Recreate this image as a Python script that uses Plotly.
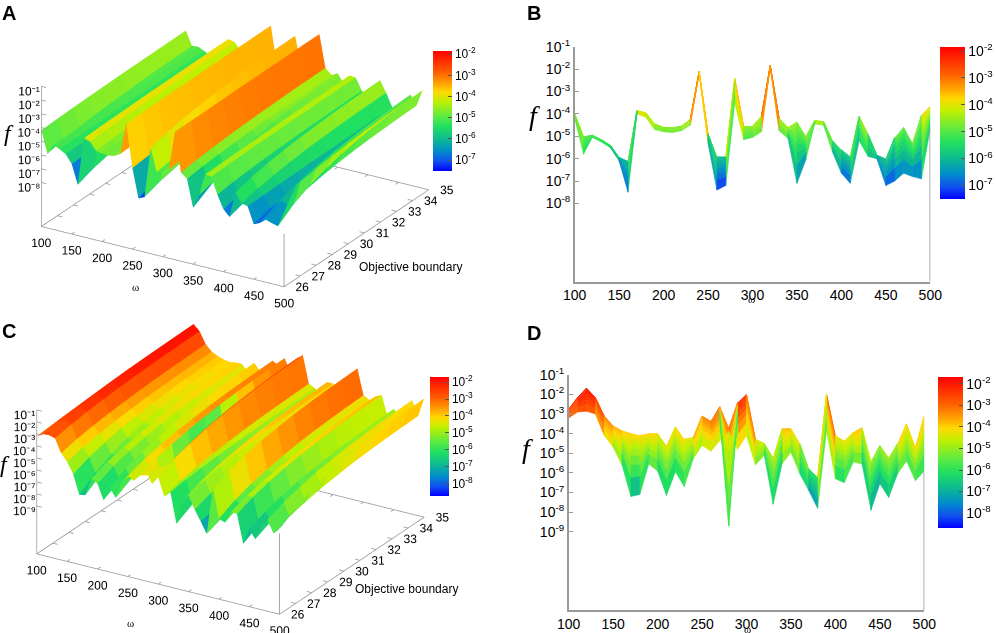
import numpy as np
import plotly.graph_objects as go

omega = list(range(100, 501, 10))
boundary = list(range(26, 36))

# log10(f); one row per omega (100..500), columns = objective boundary 26..35
logf_a = [
    [-4.20, -4.14, -4.10, -4.07, -4.05, -4.03, -4.02, -4.01, -4.00, -4.00],
    [-5.80, -5.56, -5.40, -5.28, -5.19, -5.12, -5.07, -5.04, -5.02, -5.00],
    [-5.05, -5.03, -5.02, -5.01, -5.00, -4.99, -4.98, -4.97, -4.96, -4.95],
    [-5.25, -5.23, -5.22, -5.20, -5.19, -5.18, -5.17, -5.16, -5.15, -5.15],
    [-5.50, -5.48, -5.46, -5.45, -5.44, -5.43, -5.42, -5.41, -5.40, -5.40],
    [-6.10, -6.06, -6.03, -6.01, -6.00, -5.98, -5.97, -5.96, -5.95, -5.95],
    [-7.50, -7.08, -6.80, -6.59, -6.44, -6.31, -6.23, -6.17, -6.13, -6.10],
    [-4.00, -3.96, -3.93, -3.91, -3.89, -3.88, -3.87, -3.86, -3.85, -3.85],
    [-4.15, -4.09, -4.05, -4.02, -4.00, -3.98, -3.97, -3.96, -3.95, -3.95],
    [-4.70, -4.63, -4.58, -4.54, -4.51, -4.49, -4.48, -4.46, -4.45, -4.45],
    [-4.80, -4.74, -4.70, -4.67, -4.65, -4.63, -4.62, -4.61, -4.60, -4.60],
    [-4.83, -4.77, -4.73, -4.70, -4.67, -4.65, -4.64, -4.63, -4.62, -4.62],
    [-4.75, -4.69, -4.65, -4.62, -4.60, -4.58, -4.57, -4.56, -4.55, -4.55],
    [-4.50, -4.43, -4.38, -4.34, -4.31, -4.29, -4.28, -4.26, -4.25, -4.25],
    [-2.20, -2.17, -2.15, -2.14, -2.13, -2.12, -2.11, -2.11, -2.10, -2.10],
    [-5.30, -5.18, -5.10, -5.04, -5.00, -4.96, -4.94, -4.92, -4.91, -4.90],
    [-7.40, -6.95, -6.65, -6.43, -6.26, -6.13, -6.04, -5.98, -5.93, -5.90],
    [-7.20, -6.81, -6.55, -6.36, -6.21, -6.10, -6.02, -5.97, -5.93, -5.90],
    [-3.50, -3.17, -2.95, -2.79, -2.66, -2.57, -2.50, -2.46, -2.42, -2.40],
    [-5.15, -4.97, -4.85, -4.76, -4.69, -4.64, -4.60, -4.58, -4.56, -4.55],
    [-5.05, -4.90, -4.80, -4.72, -4.67, -4.62, -4.59, -4.57, -4.56, -4.55],
    [-4.80, -4.59, -4.45, -4.35, -4.27, -4.21, -4.16, -4.14, -4.11, -4.10],
    [-1.90, -1.89, -1.88, -1.87, -1.86, -1.86, -1.85, -1.85, -1.84, -1.84],
    [-4.75, -4.59, -4.48, -4.39, -4.33, -4.28, -4.25, -4.22, -4.21, -4.20],
    [-5.10, -4.95, -4.85, -4.78, -4.72, -4.68, -4.65, -4.63, -4.61, -4.60],
    [-7.10, -6.28, -5.73, -5.32, -5.02, -4.77, -4.61, -4.50, -4.41, -4.36],
    [-6.06, -5.74, -5.53, -5.37, -5.25, -5.16, -5.10, -5.05, -5.02, -5.00],
    [-4.45, -4.41, -4.38, -4.35, -4.34, -4.32, -4.31, -4.31, -4.30, -4.30],
    [-4.50, -4.46, -4.43, -4.40, -4.39, -4.37, -4.36, -4.36, -4.35, -4.35],
    [-5.70, -5.55, -5.45, -5.38, -5.32, -5.28, -5.25, -5.23, -5.21, -5.20],
    [-6.65, -6.34, -6.13, -5.97, -5.85, -5.76, -5.70, -5.65, -5.62, -5.60],
    [-7.10, -6.74, -6.50, -6.32, -6.19, -6.08, -6.01, -5.96, -5.92, -5.90],
    [-5.20, -4.87, -4.65, -4.49, -4.36, -4.27, -4.20, -4.15, -4.12, -4.10],
    [-5.90, -5.60, -5.40, -5.25, -5.14, -5.05, -4.99, -4.95, -4.92, -4.90],
    [-6.00, -5.96, -5.93, -5.90, -5.89, -5.88, -5.87, -5.86, -5.85, -5.85],
    [-7.20, -6.84, -6.60, -6.42, -6.29, -6.18, -6.11, -6.06, -6.02, -6.00],
    [-7.00, -6.42, -6.03, -5.73, -5.52, -5.34, -5.23, -5.15, -5.09, -5.05],
    [-6.65, -6.04, -5.63, -5.32, -5.09, -4.91, -4.78, -4.70, -4.64, -4.60],
    [-6.80, -6.35, -6.05, -5.83, -5.66, -5.53, -5.44, -5.38, -5.33, -5.30],
    [-6.90, -6.05, -5.48, -5.05, -4.74, -4.49, -4.32, -4.20, -4.12, -4.06],
    [-4.65, -4.35, -4.16, -4.01, -3.90, -3.81, -3.75, -3.71, -3.68, -3.66],
]

logf_c = [
    [-3.20, -3.07, -2.98, -2.91, -2.86, -2.82, -2.79, -2.77, -2.76, -2.75],
    [-2.90, -2.68, -2.53, -2.41, -2.33, -2.26, -2.22, -2.19, -2.17, -2.15],
    [-2.86, -2.51, -2.27, -2.09, -1.96, -1.86, -1.79, -1.74, -1.70, -1.68],
    [-3.00, -2.74, -2.57, -2.45, -2.35, -2.28, -2.23, -2.19, -2.17, -2.15],
    [-4.10, -3.80, -3.60, -3.45, -3.34, -3.25, -3.19, -3.15, -3.12, -3.10],
    [-4.70, -4.37, -4.15, -3.98, -3.86, -3.76, -3.70, -3.65, -3.62, -3.60],
    [-5.60, -5.07, -4.72, -4.46, -4.27, -4.11, -4.01, -3.94, -3.88, -3.85],
    [-7.20, -6.24, -5.60, -5.12, -4.77, -4.48, -4.29, -4.16, -4.06, -4.00],
    [-7.10, -6.20, -5.60, -5.15, -4.82, -4.55, -4.37, -4.25, -4.16, -4.10],
    [-5.55, -5.08, -4.77, -4.54, -4.37, -4.23, -4.14, -4.08, -4.03, -4.00],
    [-5.90, -5.33, -4.95, -4.66, -4.46, -4.28, -4.17, -4.09, -4.04, -4.00],
    [-7.15, -6.38, -5.87, -5.49, -5.21, -4.98, -4.83, -4.73, -4.65, -4.60],
    [-5.95, -5.26, -4.80, -4.45, -4.20, -3.99, -3.86, -3.76, -3.70, -3.65],
    [-6.70, -5.97, -5.48, -5.12, -4.85, -4.63, -4.49, -4.39, -4.32, -4.27],
    [-5.30, -4.97, -4.75, -4.58, -4.46, -4.36, -4.30, -4.25, -4.22, -4.20],
    [-4.60, -4.15, -3.85, -3.62, -3.46, -3.32, -3.23, -3.17, -3.13, -3.10],
    [-4.90, -4.43, -4.12, -3.89, -3.72, -3.58, -3.49, -3.43, -3.38, -3.35],
    [-4.35, -3.83, -3.49, -3.23, -3.04, -2.89, -2.78, -2.72, -2.66, -2.63],
    [-3.90, -5.00, -6.80, -8.00, -8.70, -7.50, -5.50, -4.50, -4.00, -3.70],
    [-4.80, -4.08, -3.60, -3.24, -2.98, -2.76, -2.62, -2.52, -2.45, -2.40],
    [-4.10, -3.47, -3.05, -2.73, -2.50, -2.31, -2.19, -2.10, -2.04, -2.00],
    [-5.60, -5.20, -4.93, -4.74, -4.59, -4.47, -4.39, -4.34, -4.30, -4.27],
    [-5.10, -4.92, -4.80, -4.71, -4.64, -4.59, -4.55, -4.53, -4.51, -4.50],
    [-7.60, -6.88, -6.40, -6.04, -5.78, -5.56, -5.42, -5.32, -5.25, -5.20],
    [-5.55, -5.01, -4.65, -4.38, -4.18, -4.02, -3.91, -3.84, -3.79, -3.75],
    [-4.95, -4.59, -4.35, -4.17, -4.04, -3.93, -3.86, -3.81, -3.77, -3.75],
    [-6.05, -5.58, -5.27, -5.04, -4.87, -4.73, -4.64, -4.58, -4.53, -4.50],
    [-6.90, -6.57, -6.35, -6.18, -6.06, -5.96, -5.90, -5.85, -5.82, -5.80],
    [-7.80, -7.32, -7.00, -6.76, -6.58, -6.44, -6.34, -6.28, -6.23, -6.20],
    [-3.85, -3.29, -2.91, -2.63, -2.43, -2.26, -2.15, -2.07, -2.02, -1.98],
    [-6.30, -5.64, -5.20, -4.87, -4.63, -4.43, -4.30, -4.21, -4.14, -4.10],
    [-6.50, -5.85, -5.42, -5.10, -4.87, -4.67, -4.54, -4.46, -4.39, -4.35],
    [-5.45, -4.99, -4.69, -4.46, -4.29, -4.16, -4.07, -4.01, -3.96, -3.93],
    [-5.55, -4.99, -4.62, -4.35, -4.14, -3.98, -3.87, -3.79, -3.74, -3.70],
    [-7.90, -7.15, -6.65, -6.27, -6.00, -5.77, -5.62, -5.52, -5.45, -5.40],
    [-6.55, -5.96, -5.57, -5.28, -5.07, -4.89, -4.78, -4.70, -4.64, -4.60],
    [-7.25, -6.63, -6.22, -5.92, -5.69, -5.51, -5.38, -5.30, -5.24, -5.20],
    [-6.05, -5.58, -5.27, -5.04, -4.87, -4.73, -4.64, -4.58, -4.53, -4.50],
    [-5.40, -4.83, -4.45, -4.16, -3.96, -3.78, -3.67, -3.59, -3.54, -3.50],
    [-6.40, -5.89, -5.55, -5.29, -5.11, -4.95, -4.85, -4.78, -4.73, -4.70],
    [-5.90, -5.06, -4.50, -4.08, -3.77, -3.52, -3.35, -3.24, -3.16, -3.10],
]

omega_ticks = list(range(100, 501, 50))
zticks_a = [-1, -2, -3, -4, -5, -6, -7, -8]
zticks_c = [-1, -2, -3, -4, -5, -6, -7, -8, -9]
cbticks_a = [-2, -3, -4, -5, -6, -7]
cbticks_c = [-2, -3, -4, -5, -6, -7, -8]
zrange_a3 = [-11.2, -1]   # 3D panels
zrange_c3 = [-13, -1]
zrange_a = [-11.5, -1]    # 2D projections
zrange_c = [-13, -1]

# rainbow palette similar to the gnuplot one
palette = [
    [0.00, "#0000ff"], [0.08, "#1050f0"], [0.17, "#0090c8"], [0.28, "#10c088"],
    [0.37, "#20e060"], [0.46, "#60ea40"], [0.58, "#c0f000"], [0.66, "#ffd800"],
    [0.72, "#ffa800"], [0.82, "#ff6000"], [1.00, "#ff0000"],
]

SANS = "Liberation Sans"
SERIF = "Liberation Serif"
AXCOL = "#9a9a9a"

SUP = str.maketrans("-0123456789", "⁻⁰¹²³⁴⁵⁶⁷⁸⁹")


def pow_text(v):
    return "10" + str(v).translate(SUP)


def pow_html(v):
    return "10<sup>%d</sup>" % v


def hex_rgb(h):
    return tuple(int(h[k:k + 2], 16) for k in (1, 3, 5))


def pal_color(t):
    t = min(max(t, 0.0), 1.0)
    for (t0, c0), (t1, c1) in zip(palette[:-1], palette[1:]):
        if t <= t1:
            u = (t - t0) / (t1 - t0) if t1 > t0 else 0
            a, b = hex_rgb(c0), hex_rgb(c1)
            return "rgb(%d,%d,%d)" % tuple(round(a[k] + (b[k] - a[k]) * u) for k in range(3))
    return palette[-1][1]


def surface3d(logf, cbar, scene):
    z = np.array(logf)
    nx, ny = z.shape
    xs, ys, zs = [], [], []
    for i in range(nx):
        for j in range(ny):
            xs.append(omega[i])
            ys.append(boundary[j])
            zs.append(z[i, j])
    ii, jj, kk, inten = [], [], [], []
    for i in range(nx - 1):
        for j in range(ny - 1):
            k00 = i * ny + j
            k10 = (i + 1) * ny + j
            k01 = i * ny + j + 1
            k11 = (i + 1) * ny + j + 1
            m = (z[i, j] + z[i + 1, j] + z[i, j + 1] + z[i + 1, j + 1]) / 4
            ii += [k00, k00]
            jj += [k10, k11]
            kk += [k11, k01]
            inten += [m, m]
    return go.Mesh3d(
        x=xs, y=ys, z=zs, i=ii, j=jj, k=kk,
        intensity=inten, intensitymode="cell",
        colorscale=palette, cmin=z.min(), cmax=z.max(),
        flatshading=True,
        lighting=dict(ambient=1.0, diffuse=0.0, specular=0.0, roughness=1.0, fresnel=0.0),
        hoverinfo="skip", colorbar=cbar, scene=scene,
    )


def frame3d(logf, zr, zt, scene):
    """base box, verticals, tick marks and tick labels of a gnuplot-like 3D frame"""
    z0 = zr[0]
    x0, x1 = omega[0], omega[-1]
    y0, y1 = boundary[0], boundary[-1]
    corner = logf[-1][0]
    lx = [x0, x1, x1, x0, x0, None, x0, x0, None, x1, x1, None]
    ly = [y0, y0, y1, y1, y0, None, y0, y0, None, y0, y0, None]
    lz = [z0, z0, z0, z0, z0, None, z0, zr[1], None, z0, corner, None]
    dx = (x1 - x0) * 0.02
    dy = (y1 - y0) * 0.02
    for v in zt:
        lx += [x0, x0 + dx, None]
        ly += [y0, y0, None]
        lz += [v, v, None]
    for v in omega_ticks:
        lx += [v, v, None, v, v, None]
        ly += [y0, y0 + dy, None, y1, y1 - dy, None]
        lz += [z0, z0, None, z0, z0, None]
    for v in boundary:
        lx += [x1, x1 - dx, None, x0, x0 + dx, None]
        ly += [v, v, None, v, v, None]
        lz += [z0, z0, None, z0, z0, None]
    tfont = dict(family=SANS, size=12, color="black")
    # gl3d text sits a few pixels above its anchor; nudge the z labels down a little
    znudge = 0.035 * (zr[1] - zr[0])
    return [
        go.Scatter3d(x=lx, y=ly, z=lz, mode="lines", line=dict(color=AXCOL, width=1.6),
                     hoverinfo="skip", showlegend=False, scene=scene),
        go.Scatter3d(x=omega_ticks, y=[y0] * len(omega_ticks), z=[z0] * len(omega_ticks),
                     mode="text", text=[str(v) for v in omega_ticks], textposition="bottom center",
                     textfont=tfont, hoverinfo="skip", showlegend=False, scene=scene),
        go.Scatter3d(x=[x1] * len(boundary), y=boundary, z=[z0] * len(boundary),
                     mode="text", text=[str(v) for v in boundary], textposition="middle right",
                     textfont=tfont, hoverinfo="skip", showlegend=False, scene=scene),
        go.Scatter3d(x=[x0 + 0.03 * (x1 - x0)] * len(zt), y=[y0 + 0.02 * (y1 - y0)] * len(zt),
                     z=[v - znudge for v in zt],
                     mode="text", text=[pow_text(v) for v in zt], textposition="middle left",
                     textfont=tfont, hoverinfo="skip", showlegend=False, scene=scene),
    ]


def projection2d(logf, xa, ya):
    z = np.array(logf)
    lo, hi = z.min(), z.max()
    bins = {}
    nx, ny = z.shape
    for i in range(nx - 1):
        for j in range(ny - 1):
            m = (z[i, j] + z[i + 1, j] + z[i, j + 1] + z[i + 1, j + 1]) / 4
            b = int(round((m - lo) / (hi - lo) * 80))
            px = [omega[i], omega[i + 1], omega[i + 1], omega[i], omega[i], None]
            py = [z[i, j], z[i + 1, j], z[i + 1, j + 1], z[i, j + 1], z[i, j], None]
            bx, by = bins.setdefault(b, ([], []))
            bx += px
            by += py
    traces = []
    for b in sorted(bins, reverse=True):
        col = pal_color(b / 80)
        bx, by = bins[b]
        traces.append(go.Scatter(
            x=bx, y=by, mode="lines", fill="toself", fillcolor=col,
            line=dict(color=col, width=0.6), hoverinfo="skip",
            showlegend=False, xaxis=xa, yaxis=ya,
        ))
    return traces


def cbar(x, yc, length, thick, ticks, size):
    return dict(
        x=x, xanchor="left", y=yc, yanchor="middle", xpad=0, ypad=0,
        len=length, lenmode="pixels", thickness=thick, thicknessmode="pixels",
        tickvals=ticks, ticktext=[pow_html(t) for t in ticks],
        ticks="inside", ticklen=4, tickcolor="#555", outlinewidth=0,
        tickfont=dict(family=SANS, size=size, color="black"),
    )


fig = go.Figure()

# panel A (3D)
fig.add_trace(surface3d(logf_a, cbar(0.435, 0.825, 120, 19, cbticks_a, 12), "scene"))
for t in frame3d(logf_a, zrange_a3, zticks_a, "scene"):
    fig.add_trace(t)

# panel C (3D)
fig.add_trace(surface3d(logf_c, cbar(0.432, 0.311, 119, 19, cbticks_c, 12), "scene2"))
for t in frame3d(logf_c, zrange_c3, zticks_c, "scene2"):
    fig.add_trace(t)

# panel B (projection of A)
for t in projection2d(logf_a, "x", "y"):
    fig.add_trace(t)
za = np.array(logf_a)
fig.add_trace(go.Scatter(
    x=[omega[0]], y=[zrange_a[0] - 5], mode="markers",
    marker=dict(size=1, opacity=0, color=[za.min()], cmin=za.min(), cmax=za.max(),
                colorscale=palette, showscale=True,
                colorbar=cbar(0.944, 0.806, 152, 25, cbticks_a, 14)),
    hoverinfo="skip", showlegend=False, xaxis="x", yaxis="y",
))

# panel D (projection of C)
for t in projection2d(logf_c, "x2", "y2"):
    fig.add_trace(t)
zc = np.array(logf_c)
fig.add_trace(go.Scatter(
    x=[omega[0]], y=[zrange_c[0] - 5], mode="markers",
    marker=dict(size=1, opacity=0, color=[zc.min()], cmin=zc.min(), cmax=zc.max(),
                colorscale=palette, showscale=True,
                colorbar=cbar(0.942, 0.285, 151, 25, cbticks_c, 14)),
    hoverinfo="skip", showlegend=False, xaxis="x2", yaxis="y2",
))


def scene_axes(zr, asp, cz):
    common = dict(showgrid=False, showbackground=False, zeroline=False, showline=False,
                  showspikes=False, ticks="", showticklabels=False, title=dict(text=""))
    return dict(
        xaxis=dict(common, range=[omega[0] - 2, omega[-1] + 2]),
        yaxis=dict(common, range=[boundary[0] - 0.05, boundary[-1] + 0.05]),
        zaxis=dict(common, range=[zr[0] - 0.05, zr[1] + 0.05]),
        aspectmode="manual", aspectratio=dict(x=asp[0], y=asp[1], z=asp[2]),
        # view direction kept fixed; the look-at point is lowered to move the box up
        camera=dict(eye=dict(x=0.53, y=-0.871, z=0.456 + cz), up=dict(x=0, y=0, z=1),
                    center=dict(x=0, y=0, z=cz), projection=dict(type="orthographic")),
    )


def axis2d(dom, rng, ticks, anchor, is_y):
    d = dict(domain=dom, range=rng, anchor=anchor, showgrid=False, zeroline=False,
             showline=True, linecolor=AXCOL, linewidth=1.5,
             tickfont=dict(family=SANS, size=14, color="black"), tickvals=ticks)
    if is_y:
        d.update(ticks="inside", ticklen=5, tickcolor=AXCOL,
                 ticktext=[pow_html(t) for t in ticks])
    else:
        d.update(ticks="")
    return d


fig.update_layout(
    width=996, height=633, margin=dict(l=0, r=0, t=0, b=0, autoexpand=False),
    paper_bgcolor="white", plot_bgcolor="white",
    font=dict(family=SANS, color="black"),
    scene=dict(domain=dict(x=[0.0, 0.472], y=[0.49, 1.0]),
               **scene_axes(zrange_a3, (1.777, 1.741, 0.96), -0.159)),
    scene2=dict(domain=dict(x=[0.0, 0.463], y=[0.0, 0.52]),
                **scene_axes(zrange_c3, (1.745, 1.710, 0.967), -0.033)),
    xaxis=axis2d([0.577, 0.934], [omega[0], omega[-1]], omega_ticks, "y", False),
    yaxis=axis2d([0.555, 0.926], zrange_a, zticks_a, "x", True),
    xaxis2=axis2d([0.571, 0.928], [omega[0], omega[-1]], omega_ticks, "y2", False),
    yaxis2=axis2d([0.036, 0.408], zrange_c, zticks_c, "x2", True),
    showlegend=False,
)

# right-hand border line at the last omega, up to the surface
fig.add_shape(type="line", xref="x", yref="y", x0=omega[-1], x1=omega[-1],
              y0=zrange_a[0], y1=min(logf_a[-1]), line=dict(color=AXCOL, width=1.5))
fig.add_shape(type="line", xref="x2", yref="y2", x0=omega[-1], x1=omega[-1],
              y0=zrange_c[0], y1=min(logf_c[-1]), line=dict(color=AXCOL, width=1.5))


def note(text, x, y, size, family=SANS, xa="center", ya="middle"):
    return dict(text=text, x=x, y=y, xref="paper", yref="paper", xanchor=xa, yanchor=ya,
                showarrow=False, font=dict(family=family, size=size, color="black"))


ann = []
for txt, x, y in [("A", 0.0, 1.0), ("B", 0.527, 1.0), ("C", 0.0, 0.497), ("D", 0.527, 0.494)]:
    ann.append(note("<b>%s</b>" % txt, x, y, 20, xa="left", ya="top"))
for x, y, s in [(0.009, 0.79, 24), (0.537, 0.818, 28), (0.005, 0.267, 24), (0.530, 0.291, 28)]:
    ann.append(note("<i>f</i>", x, y, s, SERIF))
for x, y in [(0.136, 0.547), (0.755, 0.528), (0.131, 0.016), (0.750, 0.006)]:
    ann.append(note("ω", x, y, 11, SERIF))
for x, y in [(0.412, 0.578), (0.408, 0.070)]:
    ann.append(note("Objective boundary", x, y, 12))
fig.update_layout(annotations=ann)

fig.write_html("out.html", config={"displayModeBar": False},
               post_script="document.body.style.margin = '0px';")
